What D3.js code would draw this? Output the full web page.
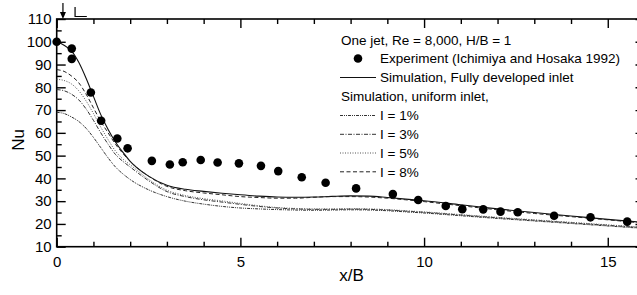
<!DOCTYPE html>
<html><head><meta charset="utf-8">
<script src="https://cdn.jsdelivr.net/npm/d3@7"></script>
<style>
html,body{margin:0;padding:0;background:#fff;}
svg{display:block;font-family:Arial,"Liberation Sans",sans-serif;}
</style></head>
<body>
<svg id="c" width="637" height="295"></svg>
<script>
// ---- data ----
const expX  = [0,0.41,0.41,0.93,1.21,1.65,1.93,2.59,3.08,3.43,3.92,4.38,4.96,5.56,6.03,6.67,7.32,8.15,9.15,9.84,10.59,11.04,11.61,12.08,12.55,13.54,14.53,15.53];
const expNu = [100,97.0,92.5,77.7,65.3,57.5,53.2,47.7,46.1,47.1,48.1,47.0,46.6,45.5,43.2,40.5,38.1,35.6,33.1,30.5,27.9,26.5,26.4,25.4,25.1,23.6,22.9,21.0];

const simX = [0,0.2,0.4,0.6,0.8,1.0,1.2,1.4,1.6,1.8,2.0,2.5,3.0,3.5,4.0,4.5,5.0,5.5,6.0,6.5,7.0,7.5,8.0,8.5,9.0,9.5,10,11,12,13,14,15,16];
const fullyDev = [100,98.5,96,91,84,76,68,61.5,56,51.5,47.5,41,37,35.2,34.3,33.5,32.8,32.2,31.8,31.7,31.8,32.1,32.3,32.2,31.6,30.9,30.2,28.4,26.6,25,23.5,22,20.6];
const uni1 = [69,68.5,67,65,62,58,53.5,49,45,42,39.5,35,32,30,28.7,27.7,27.0,26.6,26.3,26.1,26.0,26.1,26.2,26.1,25.8,25.3,24.8,23.6,22.4,21.3,20.2,19.1,18.0];
const uni3 = [79,78.5,77,74.5,70.5,65.5,60,55,50.5,47.5,45,39,34.2,32,30.6,29.6,28.6,27.7,27,26.6,26.4,26.4,26.5,26.4,26.1,25.6,25.1,23.9,22.7,21.6,20.5,19.4,18.3];
const uni5 = [83.5,83,81.5,78.5,74,68.5,62.5,57,52,48.5,46,39.6,34.8,32.5,31.1,30.1,29,28,27.2,26.8,26.6,26.6,26.7,26.6,26.3,25.8,25.3,24.1,22.9,21.8,20.7,19.6,18.5];
const uni8 = [87.8,87,85,82,77,71,65,60,55,51,47.5,41,36.5,34.6,33.6,32.8,32,31.6,31.3,31.3,31.7,32,32,31.8,31.3,30.6,29.8,28,26.2,24.6,23.2,21.8,20.3];

const xTicks = [0,5,10,15];
const yTicks = [10,20,30,40,50,60,70,80,90,100,110];

const legendTitle = "One jet, Re = 8,000, H/B = 1";
const legendExp = "Experiment (Ichimiya and Hosaka 1992)";
const legendFully = "Simulation, Fully developed inlet";
const legendUniHead = "Simulation, uniform inlet,";
const uniLabels = ["I = 1%","I = 3%","I = 5%","I = 8%"];

// ---- drawing ----
const svg = d3.select("#c");
const x = d3.scaleLinear().domain([0,16]).range([56.7,644.5]);
const y = d3.scaleLinear().domain([10,110]).range([246.7,19]);

const fontTick = 15;
function styleAxis(g){
  g.select(".domain").remove();
  g.selectAll("line").attr("stroke","#000").attr("stroke-width",1.4);
  g.selectAll("text").attr("font-size",fontTick).attr("fill","#000").attr("font-family","Arial, 'Liberation Sans', sans-serif");
}
// bottom
svg.append("g").attr("transform",`translate(0,${y(10)})`)
  .call(d3.axisBottom(x).tickValues(xTicks).tickSize(-9).tickPadding(9.5).tickFormat(d3.format("d"))).call(styleAxis);
svg.append("g").attr("transform",`translate(0,${y(10)})`)
  .call(d3.axisBottom(x).tickValues(d3.range(0,17).filter(v=>v%5)).tickSize(-5).tickFormat("")).call(styleAxis);
// top
svg.append("g").attr("transform",`translate(0,${y(110)})`)
  .call(d3.axisTop(x).tickValues(xTicks).tickSize(-9).tickFormat("")).call(styleAxis);
svg.append("g").attr("transform",`translate(0,${y(110)})`)
  .call(d3.axisTop(x).tickValues(d3.range(0,17).filter(v=>v%5)).tickSize(-5).tickFormat("")).call(styleAxis);
// left
svg.append("g").attr("transform",`translate(${x(0)},0)`)
  .call(d3.axisLeft(y).tickValues(yTicks).tickSize(-9).tickPadding(5)).call(styleAxis);
svg.append("g").attr("transform",`translate(${x(0)},0)`)
  .call(d3.axisLeft(y).tickValues(d3.range(15,110,10)).tickSize(-5).tickFormat("")).call(styleAxis);
// right
svg.append("g").attr("transform",`translate(${x(16)},0)`)
  .call(d3.axisRight(y).tickValues(yTicks).tickSize(-9).tickFormat("")).call(styleAxis);
svg.append("g").attr("transform",`translate(${x(16)},0)`)
  .call(d3.axisRight(y).tickValues(d3.range(15,110,10)).tickSize(-5).tickFormat("")).call(styleAxis);

// frame
svg.append("rect").attr("x",x(0)).attr("y",y(110)).attr("width",x(16)-x(0)).attr("height",y(10)-y(110))
  .attr("fill","none").attr("stroke","#000").attr("stroke-width",1.6);

// axis titles
svg.append("text").attr("x",351.5).attr("y",281).attr("text-anchor","middle").attr("font-size",17).text("x/B");
svg.append("text").attr("transform","translate(24,140) rotate(-90)").attr("text-anchor","middle").attr("font-size",17).text("Nu");

// arrow and L marker
svg.append("line").attr("x1",x(0.17)).attr("x2",x(0.17)).attr("y1",3).attr("y2",14).attr("stroke","#000").attr("stroke-width",1.2);
svg.append("path").attr("d",`M${x(0.17)-3},12 L${x(0.17)+3},12 L${x(0.17)},19 Z`).attr("fill","#000");
svg.append("path").attr("d",`M${x(0.5)},7 V16.5 H${x(0.82)}`).attr("fill","none").attr("stroke","#000").attr("stroke-width",1.2);

// lines
const line = d3.line().x(d=>x(d[0])).y(d=>y(d[1])).curve(d3.curveMonotoneX);
const styles = [
  {data:fullyDev, dash:null, w:1.1, c:"#111"},
  {data:uni1, dash:"3,1,1,1,1,1", w:1, c:"#333"},
  {data:uni3, dash:"4,1.5,1,1.5", w:1, c:"#333"},
  {data:uni5, dash:"1,1.5", w:1, c:"#555"},
  {data:uni8, dash:"4,2.5", w:1, c:"#222"}
];
const plot = svg.append("g");
styles.forEach(s=>{
  plot.append("path").datum(simX.map((v,i)=>[v,s.data[i]]))
    .attr("d",line).attr("fill","none").attr("stroke",s.c).attr("stroke-width",s.w)
    .attr("stroke-dasharray",s.dash);
});
plot.selectAll("circle").data(expX.map((v,i)=>[v,expNu[i]])).join("circle")
  .attr("cx",d=>x(d[0])).attr("cy",d=>y(d[1])).attr("r",4.3).attr("fill","#000");

// legend
const lg = svg.append("g").attr("font-size",13.5).attr("fill","#000");
const rowY = [40,58.5,77.5,96.5,115.5,134.3,153,171.8];
lg.append("text").attr("x",341).attr("y",rowY[0]).attr("dy","0.35em").text(legendTitle);
lg.append("circle").attr("cx",358).attr("cy",rowY[1]).attr("r",4.3).attr("fill","#000");
lg.append("text").attr("x",380).attr("y",rowY[1]).attr("dy","0.35em").text(legendExp);
lg.append("line").attr("x1",340).attr("x2",376).attr("y1",rowY[2]).attr("y2",rowY[2]).attr("stroke",styles[0].c).attr("stroke-width",1.1);
lg.append("text").attr("x",380).attr("y",rowY[2]).attr("dy","0.35em").text(legendFully);
lg.append("text").attr("x",341).attr("y",rowY[3]).attr("dy","0.35em").text(legendUniHead);
uniLabels.forEach((t,i)=>{
  const s = styles[i+1];
  lg.append("line").attr("x1",340).attr("x2",376).attr("y1",rowY[4+i]).attr("y2",rowY[4+i])
    .attr("stroke",s.c).attr("stroke-width",s.w).attr("stroke-dasharray",s.dash);
  lg.append("text").attr("x",380).attr("y",rowY[4+i]).attr("dy","0.35em").text(t);
});
</script>
</body></html>
